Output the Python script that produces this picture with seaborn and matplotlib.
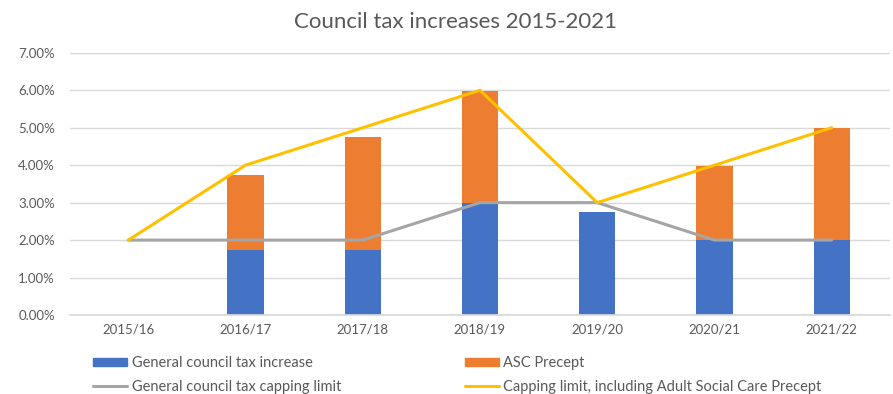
import matplotlib
matplotlib.use("Agg")
import matplotlib.pyplot as plt
import seaborn as sns
import numpy as np
from matplotlib.ticker import FuncFormatter
from matplotlib.patches import Patch
from matplotlib.lines import Line2D

years = ["2015/16", "2016/17", "2017/18", "2018/19", "2019/20", "2020/21", "2021/22"]
general_increase = [0.0, 1.74, 1.74, 2.99, 2.74, 1.99, 1.99]
asc_precept = [0.0, 1.99, 3.0, 3.0, 0.0, 2.0, 3.0]
general_cap = [2.0, 2.0, 2.0, 3.0, 3.0, 2.0, 2.0]
cap_with_asc = [2.0, 4.0, 5.0, 6.0, 3.0, 4.0, 5.0]

BLUE = "#4472C4"
ORANGE = "#ED7D31"
GREY = "#A5A5A5"
GOLD = "#FFC000"
TEXT = "#595959"

sns.set_theme(style="white")
plt.rcParams["font.family"] = ["Lato", "DejaVu Sans"]

fig = plt.figure(figsize=(8.93, 3.94), dpi=100)
ax = fig.add_axes([0.078, 0.2005, 0.919, 0.6655])

sns.barplot(x=years, y=general_increase, color=BLUE, width=0.31,
            saturation=1, linewidth=0, ax=ax, zorder=2)
sns.barplot(x=years, y=asc_precept, bottom=general_increase, color=ORANGE,
            width=0.31, saturation=1, linewidth=0, ax=ax, zorder=2)
sns.pointplot(x=years, y=general_cap, color=GREY, markers="", errorbar=None,
              linewidth=2.2, ax=ax, zorder=3)
sns.pointplot(x=years, y=cap_with_asc, color=GOLD, markers="", errorbar=None,
              linewidth=2.2, ax=ax, zorder=4)

ax.set_ylim(0, 7)
ax.set_xlim(-0.5, 6.5)
ax.set_yticks(np.arange(0, 8, 1))
ax.yaxis.set_major_formatter(FuncFormatter(lambda v, _: f"{v:.2f}%"))
ax.grid(axis="y", color="#D9D9D9", linewidth=1, zorder=0)
ax.set_axisbelow(True)
for s in ["top", "right", "left"]:
    ax.spines[s].set_visible(False)
ax.spines["bottom"].set_color("#D9D9D9")
ax.tick_params(axis="y", length=0, labelsize=9.5, colors=TEXT, pad=10.5)
ax.tick_params(axis="x", length=0, labelsize=9.5, colors=TEXT, pad=6)
ax.set_xlabel("")
ax.set_ylabel("")

fig.text(0.51, 0.945, "Council tax increases 2015-2021", ha="center", va="center",
         fontsize=16, color=TEXT)

handles = [
    Patch(facecolor=BLUE, edgecolor=BLUE),
    Line2D([0], [0], color=GREY, lw=2.2),
    Patch(facecolor=ORANGE, edgecolor=ORANGE),
    Line2D([0], [0], color=GOLD, lw=2.2),
]
labels = ["General council tax increase", "General council tax capping limit",
          "ASC Precept", "Capping limit, including Adult Social Care Precept"]
fig.legend(handles, labels, ncol=2, loc="upper left", bbox_to_anchor=(0.104, 0.097),
           frameon=False, fontsize=10.5, labelcolor=TEXT, handlelength=2.35,
           handleheight=0.45, handletextpad=0.3, columnspacing=8.5,
           labelspacing=0.7, borderaxespad=0, borderpad=0)

fig.savefig("out.png", dpi=100)
